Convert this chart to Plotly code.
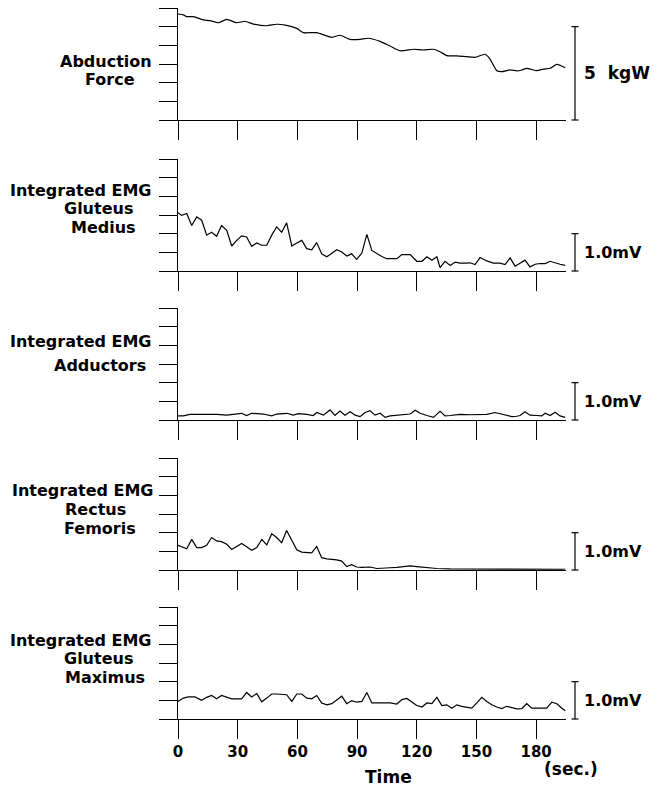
import plotly.graph_objects as go
from plotly.subplots import make_subplots

# ---------------- data ----------------
force_t = [0, 2.7, 4.4, 7.7, 12.7, 16.1, 20.3, 24.5, 29.5, 33.7, 37.9, 44.6, 49.6, 54.6, 59.7,
           63.0, 69.7, 77.3, 81.4, 86.5, 91.5, 95.7, 101.6, 106.6, 111.6, 118.3, 123.3, 128.4,
           131.7, 135.1, 140.1, 145.1, 149.3, 154.3, 156.9, 160.2, 162.7, 166.9, 170.3, 172.8,
           175.3, 180.3, 183.7, 187.0, 190.4, 194.6]
force_kgw = [5.68, 5.63, 5.54, 5.54, 5.36, 5.32, 5.21, 5.39, 5.21, 5.29, 5.14, 5.05, 5.13, 5.07, 4.91,
             4.68, 4.68, 4.43, 4.54, 4.32, 4.32, 4.38, 4.21, 3.96, 3.71, 3.79, 3.75, 3.79,
             3.66, 3.45, 3.43, 3.39, 3.36, 3.52, 3.25, 2.64, 2.59, 2.68, 2.63, 2.68,
             2.77, 2.64, 2.73, 2.77, 2.98, 2.80]

gmed_t = [0, 1.8, 4.4, 6.9, 9.4, 11.9, 14.4, 16.9, 19.4, 21.9,
          24.5, 27.0, 29.5, 32.0, 34.5, 37.0, 39.6, 42.1, 44.6, 47.1,
          49.6, 52.1, 54.6, 57.2, 59.7, 62.2, 64.7, 67.2, 69.7, 72.2,
          74.8, 77.3, 79.8, 82.3, 84.8, 87.3, 89.8, 92.4, 94.9, 97.4,
          99.9, 102.4, 104.9, 107.4, 110.0, 112.5, 116.7, 120.0, 122.6, 125.1,
          127.6, 130.1, 131.7, 134.2, 136.8, 139.3, 141.8, 144.3, 146.8, 149.3,
          151.8, 155.2, 158.5, 161.9, 164.4, 166.9, 169.4, 171.9, 174.4, 176.9,
          179.5, 182.0, 184.5, 187.0, 189.5, 192.0, 194.6]
gmed_mv = [1.56, 1.49, 1.54, 1.22, 1.45, 1.36, 0.96, 1.04, 0.93, 1.22,
           1.09, 0.67, 0.82, 0.94, 0.91, 0.66, 0.75, 0.69, 0.69, 0.96,
           1.18, 1.04, 1.29, 0.67, 0.75, 0.82, 0.60, 0.57, 0.76, 0.46,
           0.38, 0.48, 0.57, 0.51, 0.40, 0.46, 0.31, 0.48, 0.98, 0.55,
           0.46, 0.39, 0.33, 0.33, 0.33, 0.44, 0.44, 0.26, 0.26, 0.38,
           0.29, 0.38, 0.09, 0.26, 0.15, 0.24, 0.21, 0.21, 0.22, 0.17,
           0.36, 0.27, 0.21, 0.21, 0.17, 0.35, 0.13, 0.21, 0.29, 0.11,
           0.18, 0.20, 0.20, 0.26, 0.21, 0.18, 0.15]

add_t = [0, 2.7, 6.0, 12.7, 19.4, 24.5, 29.5, 32.0, 34.5, 37.0,
         42.9, 47.1, 49.6, 54.6, 58.0, 60.5, 64.7, 68.0, 69.7, 73.1,
         76.4, 78.9, 81.4, 83.9, 86.5, 89.0, 91.5, 94.0, 96.5, 99.0,
         101.6, 104.1, 106.6, 110.0, 113.3, 116.7, 119.2, 121.7, 125.1, 128.4,
         131.7, 134.2, 136.8, 141.8, 146.8, 151.8, 155.2, 159.4, 163.5, 167.7,
         170.3, 171.9, 174.4, 176.9, 180.3, 182.8, 184.5, 187.0, 189.5, 192.0,
         194.6]
add_mv = [0.11, 0.11, 0.15, 0.16, 0.15, 0.13, 0.16, 0.18, 0.12, 0.18,
          0.16, 0.11, 0.16, 0.18, 0.13, 0.17, 0.15, 0.12, 0.20, 0.13,
          0.27, 0.12, 0.24, 0.13, 0.22, 0.13, 0.09, 0.20, 0.25, 0.13,
          0.18, 0.07, 0.11, 0.13, 0.13, 0.16, 0.26, 0.18, 0.12, 0.07,
          0.23, 0.11, 0.12, 0.15, 0.14, 0.14, 0.15, 0.20, 0.14, 0.09,
          0.10, 0.12, 0.22, 0.13, 0.12, 0.11, 0.18, 0.12, 0.21, 0.11,
          0.07]

rf_t = [0, 2.7, 4.4, 6.9, 9.4, 11.9, 14.4, 16.9, 19.4, 21.9,
        24.5, 27.0, 29.5, 32.0, 34.5, 37.0, 39.6, 42.1, 44.6, 47.1,
        49.6, 52.1, 54.6, 57.2, 59.7, 62.2, 64.7, 67.2, 69.7, 72.2,
        74.8, 77.3, 79.8, 82.3, 84.8, 87.3, 89.8, 92.4, 96.5, 99.9,
        103.3, 106.6, 110.0, 113.3, 116.7, 120.0, 125.1, 130.1, 136.8, 145.1,
        153.5, 161.9, 170.3, 178.6, 194.6]
rf_mv = [0.66, 0.60, 0.57, 0.82, 0.60, 0.60, 0.66, 0.87, 0.78, 0.76,
         0.69, 0.55, 0.64, 0.71, 0.62, 0.53, 0.60, 0.82, 0.67, 0.97,
         0.87, 0.73, 1.06, 0.79, 0.54, 0.48, 0.46, 0.46, 0.63, 0.33,
         0.30, 0.29, 0.27, 0.24, 0.09, 0.14, 0.08, 0.07, 0.08, 0.04,
         0.04, 0.06, 0.07, 0.08, 0.11, 0.09, 0.06, 0.04, 0.03, 0.03,
         0.02, 0.02, 0.02, 0.02, 0.02]

gmax_t = [0, 2.7, 5.2, 8.5, 11.9, 14.4, 16.9, 19.4, 21.9, 24.5,
          27.0, 29.5, 32.0, 34.5, 37.0, 39.6, 42.1, 44.6, 47.1, 49.6,
          52.1, 54.6, 57.2, 59.7, 62.2, 64.7, 67.2, 69.7, 72.2, 74.8,
          77.3, 79.8, 82.3, 84.8, 87.3, 89.8, 92.4, 94.9, 97.4, 99.9,
          103.3, 106.6, 110.0, 112.5, 115.0, 117.5, 120.0, 122.6, 125.1, 127.6,
          130.1, 132.6, 135.1, 137.6, 140.1, 142.6, 145.1, 147.6, 150.2, 152.7,
          155.2, 157.7, 160.2, 162.7, 165.2, 167.7, 170.3, 172.8, 175.3, 177.8,
          180.3, 182.8, 185.3, 187.9, 190.4, 192.9, 194.6]
gmax_mv = [0.47, 0.56, 0.59, 0.59, 0.50, 0.58, 0.63, 0.54, 0.63, 0.58,
           0.54, 0.54, 0.54, 0.71, 0.59, 0.68, 0.46, 0.56, 0.67, 0.67,
           0.66, 0.65, 0.47, 0.67, 0.67, 0.56, 0.54, 0.63, 0.43, 0.38,
           0.41, 0.52, 0.61, 0.41, 0.49, 0.45, 0.47, 0.71, 0.43, 0.43,
           0.43, 0.43, 0.40, 0.52, 0.55, 0.45, 0.36, 0.32, 0.43, 0.41,
           0.58, 0.36, 0.38, 0.29, 0.38, 0.34, 0.31, 0.29, 0.43, 0.58,
           0.47, 0.38, 0.32, 0.28, 0.34, 0.31, 0.27, 0.28, 0.41, 0.29,
           0.29, 0.31, 0.29, 0.45, 0.41, 0.29, 0.22]

panel_labels = [
    ["Abduction", "Force"],
    ["Integrated EMG", "Gluteus", "Medius"],
    ["Integrated EMG", "Adductors"],
    ["Integrated EMG", "Rectus", "Femoris"],
    ["Integrated EMG", "Gluteus", "Maximus"],
]
y_max = [6, 3, 3, 3, 3]            # axis full scale (kgW / mV)
scale_value = [5, 1.0, 1.0, 1.0, 1.0]
scale_text = ["5 kgW", "1.0mV", "1.0mV", "1.0mV", "1.0mV"]
x_ticks = [0, 30, 60, 90, 120, 150, 180]
x_range = [0, 195]

series = [(force_t, force_kgw), (gmed_t, gmed_mv), (add_t, add_mv), (rf_t, rf_mv), (gmax_t, gmax_mv)]

# ---------------- layout geometry ----------------
W, H = 664, 788
L, R = 178, 98
PW = W - L - R
tops = [8, 159, 308, 458, 607]
PH = 112

def xp(px):
    return (px - L) / PW

def yp(py):
    return 1 - py / H

FONT = "DejaVu Sans"
fig = make_subplots(rows=5, cols=1)

for i, (t, v) in enumerate(series):
    fig.add_trace(go.Scatter(x=t, y=v, mode="lines",
                             line=dict(color="black", width=1.2,
                                       shape="spline" if i == 0 else "linear",
                                       smoothing=0.5 if i == 0 else None),
                             showlegend=False, hoverinfo="skip"),
                  row=i + 1, col=1)

axis_common = dict(showgrid=False, zeroline=False, showline=True, linecolor="black",
                   linewidth=1, ticks="outside", tickcolor="black", tickwidth=1)

for i in range(5):
    n = i + 1
    top = tops[i]
    bot = top + PH
    fig.update_xaxes(row=n, col=1, domain=[0, 1], range=x_range, tickmode="array",
                     tickvals=x_ticks, ticktext=[str(x) for x in x_ticks],
                     ticklen=19, showticklabels=(i == 4),
                     tickfont=dict(family=FONT, size=15, color="black", weight="bold"),
                     **axis_common)
    fig.update_yaxes(row=n, col=1, domain=[yp(bot), yp(top)], range=[0, y_max[i]],
                     tickmode="linear", tick0=0, dtick=y_max[i] / 6, ticklen=18,
                     showticklabels=False, **axis_common)

    yref_dom = "y domain" if n == 1 else f"y{n} domain"
    frac = scale_value[i] / y_max[i]
    xb = xp(575)
    cap = 3.5 / PW
    fig.add_shape(type="line", xref="paper", yref=yref_dom, x0=xb, x1=xb, y0=0, y1=frac,
                  line=dict(color="black", width=1.2))
    for yy in (0, frac):
        fig.add_shape(type="line", xref="paper", yref=yref_dom, x0=xb - cap, x1=xb + cap,
                      y0=yy, y1=yy, line=dict(color="black", width=1.2))
    fig.add_annotation(xref="paper", yref=yref_dom, x=xp(582), y=frac / 2,
                       xanchor="left", yanchor="middle", showarrow=False,
                       text=scale_text[i].replace(" ", "\u00a0\u00a0"),
                       font=dict(family=FONT, size=17 if i == 0 else 16, color="black", weight="bold"))

# left-side panel labels: (line centre x px, line centre y px)
label_pos = [
    [(106, 61), (110, 79)],
    [(81, 190), (98, 208.5), (103, 227)],
    [(81, 341), (100, 365)],
    [(83, 491), (95, 509), (100, 528)],
    [(81, 640), (98, 658), (105, 677)],
]
for lines, poss in zip(panel_labels, label_pos):
    for txt, (cx, cy) in zip(lines, poss):
        fig.add_annotation(xref="paper", yref="paper", x=xp(cx), y=yp(cy),
                           xanchor="center", yanchor="middle", showarrow=False, text=txt,
                           font=dict(family=FONT, size=16, color="black", weight="bold"))

fig.add_annotation(xref="paper", yref="paper", x=xp(388), y=yp(777), xanchor="center",
                   yanchor="middle", showarrow=False, text="Time",
                   font=dict(family=FONT, size=17, color="black", weight="bold"))
fig.add_annotation(xref="paper", yref="paper", x=xp(542), y=yp(769), xanchor="left",
                   yanchor="middle", showarrow=False, text="(sec.)",
                   font=dict(family=FONT, size=17, color="black", weight="bold"))

fig.update_layout(width=W, height=H, margin=dict(l=L, r=R, t=0, b=0),
                  plot_bgcolor="white", paper_bgcolor="white", showlegend=False)

fig.write_html("out.html", config={"displayModeBar": False},
               post_script="document.body.style.margin='0';document.body.style.overflow='hidden';")
